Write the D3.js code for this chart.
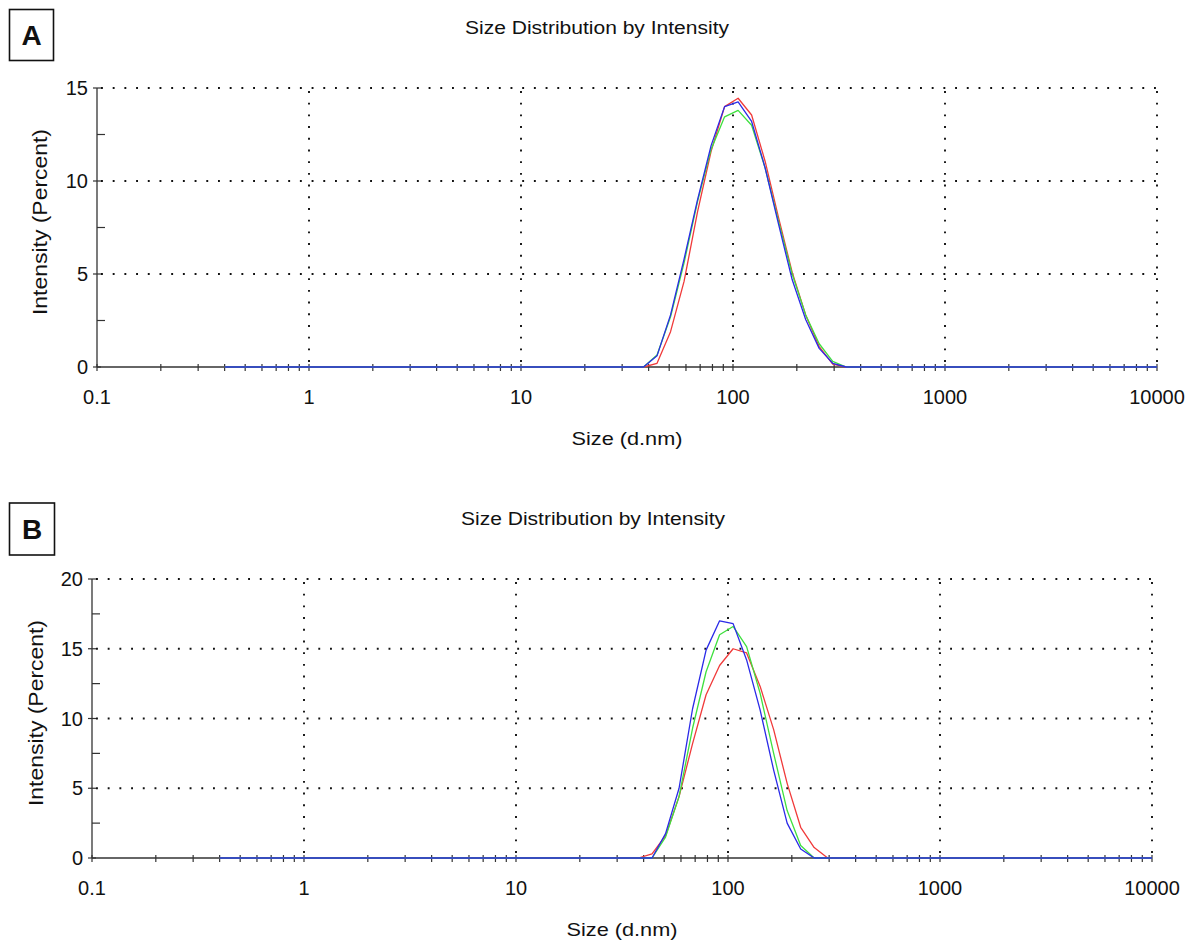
<!DOCTYPE html>
<html>
<head>
<meta charset="utf-8">
<script src="https://cdn.jsdelivr.net/npm/d3@7"></script>
<style>
  html, body { margin: 0; padding: 0; background: #fff; }
  svg { display: block; }
  text { font-family: "Liberation Sans", Arial, sans-serif; fill: #111; }
</style>
</head>
<body>
<svg id="chart" width="1199" height="940"></svg>
<script>
// Size bins (d.nm)
const sizes = [0.4, 0.4632, 0.5365, 0.6213, 0.7195, 0.8332, 0.9649, 1.117, 1.294, 1.499,
  1.736, 2.010, 2.328, 2.696, 3.122, 3.615, 4.187, 4.849, 5.615, 6.503,
  7.531, 8.721, 10.10, 11.70, 13.54, 15.69, 18.17, 21.04, 24.36, 28.21,
  32.67, 37.84, 43.82, 50.75, 58.77, 68.06, 78.82, 91.28, 105.7, 122.4,
  141.8, 164.2, 190.1, 220.2, 255.0, 295.3, 342.0, 396.1, 458.7, 531.2,
  615.1, 712.4, 825.0, 955.4, 1106, 1281, 1484, 1718, 1990, 2305,
  2669, 3091, 3580, 4145, 4801, 5560, 6439, 7456, 8635, 10000];

// Panel A intensities (%)
const aRed = [0,0,0,0,0,0,0,0,0,0, 0,0,0,0,0,0,0,0,0,0, 0,0,0,0,0,0,0,0,0,0,
  0, 0, 0.2, 1.9, 4.6, 8.35, 11.6, 14.0, 14.45, 13.55,
  11.05, 8.0, 5.1, 2.8, 1.1, 0.15, 0, 0, 0, 0,
  0,0,0,0,0,0,0,0,0,0, 0,0,0,0,0,0,0,0,0,0];
const aGreen = [0,0,0,0,0,0,0,0,0,0, 0,0,0,0,0,0,0,0,0,0, 0,0,0,0,0,0,0,0,0,0,
  0, 0, 0.65, 2.7, 5.6, 8.9, 11.7, 13.45, 13.8, 13.0,
  10.7, 7.8, 5.0, 2.8, 1.25, 0.3, 0, 0, 0, 0,
  0,0,0,0,0,0,0,0,0,0, 0,0,0,0,0,0,0,0,0,0];
const aBlue = [0,0,0,0,0,0,0,0,0,0, 0,0,0,0,0,0,0,0,0,0, 0,0,0,0,0,0,0,0,0,0,
  0, 0, 0.6, 2.8, 5.8, 9.0, 11.9, 14.0, 14.25, 13.2,
  10.7, 7.65, 4.7, 2.55, 1.0, 0.2, 0, 0, 0, 0,
  0,0,0,0,0,0,0,0,0,0, 0,0,0,0,0,0,0,0,0,0];

// Panel B intensities (%)
const bRed = [0,0,0,0,0,0,0,0,0,0, 0,0,0,0,0,0,0,0,0,0, 0,0,0,0,0,0,0,0,0,0,
  0, 0, 0.3, 1.6, 4.4, 8.2, 11.7, 13.8, 15.0, 14.7,
  12.3, 9.2, 5.35, 2.2, 0.75, 0, 0, 0, 0, 0,
  0,0,0,0,0,0,0,0,0,0, 0,0,0,0,0,0,0,0,0,0];
const bGreen = [0,0,0,0,0,0,0,0,0,0, 0,0,0,0,0,0,0,0,0,0, 0,0,0,0,0,0,0,0,0,0,
  0, 0, 0, 1.5, 4.4, 9.3, 13.35, 16.0, 16.6, 15.15,
  11.8, 7.5, 3.4, 0.9, 0, 0, 0, 0, 0, 0,
  0,0,0,0,0,0,0,0,0,0, 0,0,0,0,0,0,0,0,0,0];
const bBlue = [0,0,0,0,0,0,0,0,0,0, 0,0,0,0,0,0,0,0,0,0, 0,0,0,0,0,0,0,0,0,0,
  0, 0, 0, 1.75, 5.0, 10.7, 14.9, 17.0, 16.8, 14.2,
  10.6, 6.3, 2.5, 0.65, 0, 0, 0, 0, 0, 0,
  0,0,0,0,0,0,0,0,0,0, 0,0,0,0,0,0,0,0,0,0];

const xTickValues = [0.1, 1, 10, 100, 1000, 10000];
const xTickLabels = ["0.1", "1", "10", "100", "1000", "10000"];
const aYTicks = [0, 5, 10, 15];
const bYTicks = [0, 5, 10, 15, 20];
const titleText = "Size Distribution by Intensity";
const xTitle = "Size (d.nm)";
const yTitle = "Intensity (Percent)";

const colors = { red: "#f03a3a", green: "#3ee03e", blue: "#2a2ae8" };

const svg = d3.select("#chart");

function drawPanel(cfg) {
  const g = svg.append("g");
  const x = d3.scaleLog().domain([0.1, 10000]).range([cfg.left, cfg.right]);
  const y = d3.scaleLinear().domain([0, cfg.ymax]).range([cfg.bottom, cfg.top]);

  // panel letter box
  g.append("rect").attr("x", cfg.box[0]).attr("y", cfg.box[1])
    .attr("width", cfg.box[2]).attr("height", cfg.box[3])
    .attr("fill", "none").attr("stroke", "#111").attr("stroke-width", 1.6);
  g.append("text").attr("x", cfg.box[0] + cfg.box[2] / 2).attr("y", cfg.box[1] + cfg.box[3] / 2 + 10)
    .attr("text-anchor", "middle").attr("font-size", 28).attr("font-weight", "bold")
    .text(cfg.letter);

  // title
  g.append("text").attr("x", cfg.titleX).attr("y", cfg.titleY)
    .attr("text-anchor", "middle").attr("font-size", 18)
    .attr("textLength", 264).attr("lengthAdjust", "spacingAndGlyphs")
    .text(titleText);

  // dotted grid
  const grid = g.append("g").attr("stroke", "#111").attr("stroke-width", 1.9)
    .attr("stroke-dasharray", "1.9,9.8");
  cfg.yTicks.filter(v => v > 0).forEach(v => {
    grid.append("line").attr("x1", cfg.left + 4).attr("x2", cfg.right)
      .attr("y1", y(v)).attr("y2", y(v));
  });
  xTickValues.filter(v => v > 0.1).forEach(v => {
    grid.append("line").attr("x1", x(v)).attr("x2", x(v))
      .attr("y1", cfg.bottom - 5).attr("y2", cfg.top);
  });

  // axes lines
  g.append("line").attr("x1", cfg.left).attr("x2", cfg.right)
    .attr("y1", cfg.bottom).attr("y2", cfg.bottom)
    .attr("stroke", "#333").attr("stroke-width", 1.3);
  g.append("line").attr("x1", cfg.left).attr("x2", cfg.left)
    .attr("y1", cfg.bottom).attr("y2", cfg.top)
    .attr("stroke", "#333").attr("stroke-width", 1.3);

  // x ticks: majors and minors
  const xt = [];
  for (let e = -1; e < 4; e++) {
    for (let k = 1; k < 10; k++) xt.push(k * Math.pow(10, e));
  }
  xt.push(10000);
  g.append("g").selectAll("line").data(xt).join("line")
    .attr("x1", d => x(d)).attr("x2", d => x(d))
    .attr("y1", cfg.bottom - 3).attr("y2", cfg.bottom + 4)
    .attr("stroke", "#333").attr("stroke-width", 1.2);

  // x labels
  g.append("g").selectAll("text").data(xTickValues).join("text")
    .attr("x", d => x(d)).attr("y", cfg.bottom + 37)
    .attr("text-anchor", "middle").attr("font-size", 20)
    .text((d, i) => xTickLabels[i]);

  // y ticks
  g.append("g").selectAll("line").data(cfg.yTicks).join("line")
    .attr("x1", cfg.left - 4).attr("x2", cfg.left + 4)
    .attr("y1", d => y(d)).attr("y2", d => y(d))
    .attr("stroke", "#333").attr("stroke-width", 1.2);
  const minors = cfg.yTicks.slice(0, -1).map(v => v + 2.5);
  g.append("g").selectAll("line").data(minors).join("line")
    .attr("x1", cfg.left).attr("x2", cfg.left + 8)
    .attr("y1", d => y(d)).attr("y2", d => y(d))
    .attr("stroke", "#333").attr("stroke-width", 1.2);
  g.append("g").selectAll("text").data(cfg.yTicks).join("text")
    .attr("x", cfg.left - 9).attr("y", d => y(d) + 7)
    .attr("text-anchor", "end").attr("font-size", 20)
    .text(d => d);

  // axis titles
  g.append("text").attr("x", (cfg.left + cfg.right) / 2).attr("y", cfg.bottom + 78)
    .attr("text-anchor", "middle").attr("font-size", 19)
    .attr("textLength", 111).attr("lengthAdjust", "spacingAndGlyphs")
    .text(xTitle);
  g.append("text")
    .attr("transform", `translate(${cfg.yTitleX},${cfg.yTitleY}) rotate(-90)`)
    .attr("text-anchor", "middle").attr("font-size", 20)
    .attr("textLength", 186).attr("lengthAdjust", "spacingAndGlyphs")
    .text(yTitle);

  // series
  const line = d3.line().x((d, i) => x(sizes[i])).y(d => y(d));
  cfg.series.forEach(s => {
    g.append("path").datum(s.values).attr("d", line)
      .attr("fill", "none").attr("stroke", s.color).attr("stroke-width", 1.3)
      .attr("stroke-linejoin", "round");
  });
}

drawPanel({
  letter: "A", box: [9.5, 9.5, 44, 51],
  left: 97, right: 1157, top: 88, bottom: 367, ymax: 15, yTicks: aYTicks,
  titleX: 597, titleY: 34, yTitleX: 47, yTitleY: 222,
  series: [
    { values: aRed, color: colors.red },
    { values: aGreen, color: colors.green },
    { values: aBlue, color: colors.blue }
  ]
});

drawPanel({
  letter: "B", box: [9.5, 503, 45, 52],
  left: 92, right: 1152, top: 579, bottom: 858, ymax: 20, yTicks: bYTicks,
  titleX: 593, titleY: 525, yTitleX: 43, yTitleY: 713,
  series: [
    { values: bRed, color: colors.red },
    { values: bGreen, color: colors.green },
    { values: bBlue, color: colors.blue }
  ]
});
</script>
</body>
</html>
